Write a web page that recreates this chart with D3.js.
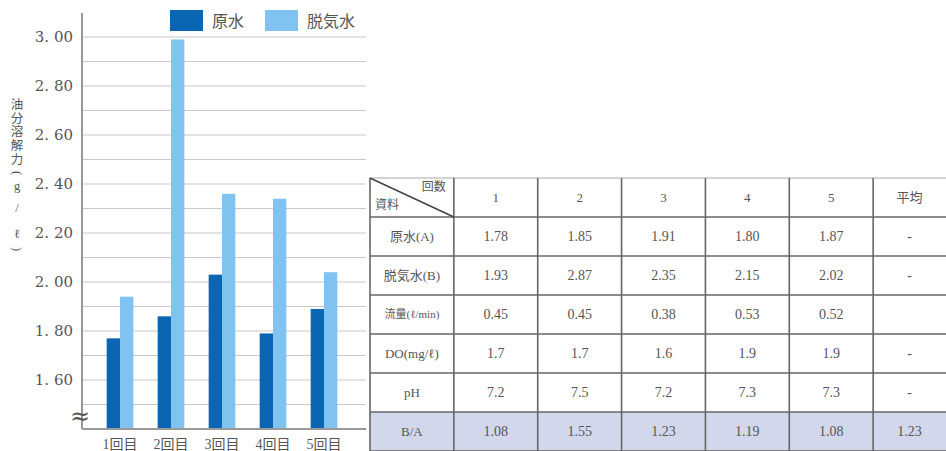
<!DOCTYPE html>
<html>
<head>
<meta charset="utf-8">
<script src="https://cdn.jsdelivr.net/npm/d3@7"></script>
<style>
body { margin: 0; background: #fff; }
svg { display: block; }
.grid line { stroke: #c8c8c8; stroke-width: 1.2; }
.tick-label { font-family: "DejaVu Serif", "Liberation Serif", serif; fill: #555; }
.jp { font-family: "Liberation Serif", "Noto Sans CJK JP", serif; fill: #555; }
.cell { stroke: #666; stroke-width: 1.6; }
</style>
</head>
<body>
<svg width="946" height="451"></svg>
<script>
// chart data
var runs = ["1回目", "2回目", "3回目", "4回目", "5回目"];
var series = ["原水", "脱気水"];
var rawWater = [1.77, 1.86, 2.03, 1.79, 1.89];
var degassed = [1.94, 2.99, 2.36, 2.34, 2.04];
var yTicks = [1.60, 1.80, 2.00, 2.20, 2.40, 2.60, 2.80, 3.00];
var yGrid = [1.5, 1.6, 1.7, 1.8, 1.9, 2.0, 2.1, 2.2, 2.3, 2.4, 2.5, 2.6, 2.7, 2.8, 2.9, 3.0];

// table data
var colHeads = ["1", "2", "3", "4", "5", "平均"];
var rowLabels = ["原水(A)", "脱気水(B)", "流量(ℓ/min)", "DO(mg/ℓ)", "pH", "B/A"];
var rowA   = ["1.78", "1.85", "1.91", "1.80", "1.87", "-"];
var rowB   = ["1.93", "2.87", "2.35", "2.15", "2.02", "-"];
var rowQ   = ["0.45", "0.45", "0.38", "0.53", "0.52", ""];
var rowDO  = ["1.7", "1.7", "1.6", "1.9", "1.9", "-"];
var rowPH  = ["7.2", "7.5", "7.2", "7.3", "7.3", "-"];
var rowBA  = ["1.08", "1.55", "1.23", "1.19", "1.08", "1.23"];

var colors = {"原水": "#0a66b2", "脱気水": "#80c3f0"};

var svg = d3.select("svg");

// ---- bar chart ----
var axisX = 82, plotRight = 366, base = 429;

var y = d3.scaleLinear().domain([1.4, 3.0]).range([base, 37]);

var x0 = d3.scaleBand().domain(runs).range([94.5, 349.5])
    .paddingInner(0.477).paddingOuter(0.2385);
var x1 = d3.scaleBand().domain(series).range([0, x0.bandwidth()]);

// grid lines
svg.append("g").attr("class", "grid")
  .selectAll("line")
  .data(yGrid)
  .enter().append("line")
    .attr("x1", axisX).attr("x2", plotRight)
    .attr("y1", function(d) { return y(d); })
    .attr("y2", function(d) { return y(d); });

// bars
var groups = svg.append("g").selectAll("g")
  .data(runs)
  .enter().append("g")
    .attr("transform", function(d) { return "translate(" + x0(d) + ",0)"; });

groups.selectAll("rect")
  .data(function(d, i) {
    return [{k: "原水", v: rawWater[i]}, {k: "脱気水", v: degassed[i]}];
  })
  .enter().append("rect")
    .attr("x", function(d) { return x1(d.k); })
    .attr("y", function(d) { return y(d.v); })
    .attr("width", x1.bandwidth())
    .attr("height", function(d) { return base - y(d.v); })
    .attr("fill", function(d) { return colors[d.k]; });

// axes lines
svg.append("line")
  .attr("x1", axisX).attr("x2", axisX).attr("y1", 13).attr("y2", base)
  .attr("stroke", "#999").attr("stroke-width", 2);
svg.append("line")
  .attr("x1", axisX).attr("x2", plotRight).attr("y1", base).attr("y2", base)
  .attr("stroke", "#999").attr("stroke-width", 2);

// y tick labels
var fmt = d3.format(".2f");
svg.append("g").selectAll("text")
  .data(yTicks)
  .enter().append("text")
    .attr("class", "tick-label")
    .attr("x", 73)
    .attr("y", function(d) { return y(d); })
    .attr("dy", "0.35em")
    .attr("text-anchor", "end")
    .attr("font-size", 15)
    .text(function(d) { return fmt(d).replace(".", ". "); });

// break mark
svg.append("text")
  .attr("class", "tick-label")
  .attr("x", 80).attr("y", 416).attr("dy", "0.35em")
  .attr("text-anchor", "middle").attr("font-size", 24)
  .text("≈");

// x labels
svg.append("g").selectAll("text")
  .data(runs)
  .enter().append("text")
    .attr("class", "jp")
    .attr("x", function(d) { return x0(d) + x0.bandwidth() / 2; })
    .attr("y", 449)
    .attr("text-anchor", "middle")
    .attr("font-size", 14)
    .text(function(d) { return d; });

// y title, stacked vertically
var titleChars = ["油", "分", "溶", "解", "力", "(", "g", "/", "ℓ", ")"];
var titleY = [105, 119, 132, 146, 160, 173, 186, 208, 234, 249];
svg.append("g").selectAll("text")
  .data(titleChars)
  .enter().append("text")
    .attr("class", "jp")
    .attr("font-size", 12.5)
    .attr("text-anchor", "middle")
    .attr("dy", "0.35em")
    .attr("transform", function(d, i) {
      var r = (d === "(" || d === ")") ? " rotate(90)" : "";
      return "translate(17," + titleY[i] + ")" + r;
    })
    .text(function(d) { return d; });

// legend
var legend = svg.append("g").selectAll("g")
  .data(series)
  .enter().append("g")
    .attr("transform", function(d, i) { return "translate(" + (170 + i * 95) + ",10)"; });
legend.append("rect")
  .attr("width", 33).attr("height", 21)
  .attr("fill", function(d) { return colors[d]; });
legend.append("text")
  .attr("class", "jp")
  .attr("x", 42).attr("y", 11).attr("dy", "0.35em")
  .attr("font-size", 16)
  .text(function(d) { return d; });

// ---- table ----
var rows = [rowA, rowB, rowQ, rowDO, rowPH, rowBA];
var colKeys = ["label"].concat(colHeads);
var rowKeys = ["head"].concat(rowLabels);

var cx = d3.scaleBand().domain(colKeys).range([370, 957]);
var ry = d3.scaleBand().domain(rowKeys).range([178, 451]);

var tbl = svg.append("g");

// shaded last row
tbl.append("rect")
  .attr("x", cx("label")).attr("y", ry("B/A"))
  .attr("width", 946 - cx("label")).attr("height", ry.bandwidth())
  .attr("fill", "#d3d7ec");

// grid of the table
tbl.selectAll(".hline")
  .data(rowKeys.slice(1).concat(["end"]))
  .enter().append("line")
    .attr("class", "cell")
    .attr("x1", cx("label")).attr("x2", 946)
    .attr("y1", function(d) { return d === "end" ? 451 : ry(d); })
    .attr("y2", function(d) { return d === "end" ? 451 : ry(d); });
tbl.append("line")
  .attr("x1", cx("label")).attr("x2", 946)
  .attr("y1", ry("head")).attr("y2", ry("head"))
  .attr("stroke", "#aaa").attr("stroke-width", 1.2);
tbl.selectAll(".vline")
  .data(colKeys)
  .enter().append("line")
    .attr("class", "cell")
    .attr("x1", function(d) { return cx(d); })
    .attr("x2", function(d) { return cx(d); })
    .attr("y1", ry("head")).attr("y2", 451);

// diagonal header cell
tbl.append("line")
  .attr("x1", cx("label")).attr("y1", ry("head"))
  .attr("x2", cx("label") + cx.bandwidth()).attr("y2", ry("head") + ry.bandwidth())
  .attr("stroke", "#444").attr("stroke-width", 1.5);
tbl.append("text").attr("class", "jp").attr("font-size", 12)
  .attr("x", cx("label") + cx.bandwidth() - 8).attr("y", ry("head") + 13)
  .attr("text-anchor", "end").text("回数");
tbl.append("text").attr("class", "jp").attr("font-size", 12)
  .attr("x", cx("label") + 5).attr("y", ry("head") + ry.bandwidth() - 8)
  .text("資料");

// header numbers
tbl.selectAll(".colhead")
  .data(colHeads)
  .enter().append("text")
    .attr("class", "jp")
    .attr("font-size", 13)
    .attr("text-anchor", "middle")
    .attr("x", function(d) { return d === "平均" ? (cx(d) + 946) / 2 : cx(d) + cx.bandwidth() / 2; })
    .attr("y", ry("head") + ry.bandwidth() / 2)
    .attr("dy", "0.35em")
    .text(function(d) { return d; });

// row labels
tbl.selectAll(".rowlab")
  .data(rowLabels)
  .enter().append("text")
    .attr("class", "jp")
    .attr("font-size", function(d) { return d.length > 8 ? 11 : 13; })
    .attr("text-anchor", "middle")
    .attr("x", cx("label") + cx.bandwidth() / 2)
    .attr("y", function(d) { return ry(d) + ry.bandwidth() / 2; })
    .attr("dy", "0.35em")
    .text(function(d) { return d; });

// cell values
rows.forEach(function(r, i) {
  tbl.append("g").selectAll("text")
    .data(r)
    .enter().append("text")
      .attr("class", "jp")
      .attr("font-size", 14)
      .attr("text-anchor", "middle")
      .attr("x", function(d, j) {
        var k = colHeads[j];
        return k === "平均" ? (cx(k) + 946) / 2 : cx(k) + cx.bandwidth() / 2;
      })
      .attr("y", ry(rowLabels[i]) + ry.bandwidth() / 2)
      .attr("dy", "0.35em")
      .text(function(d) { return d; });
});
</script>
</body>
</html>
